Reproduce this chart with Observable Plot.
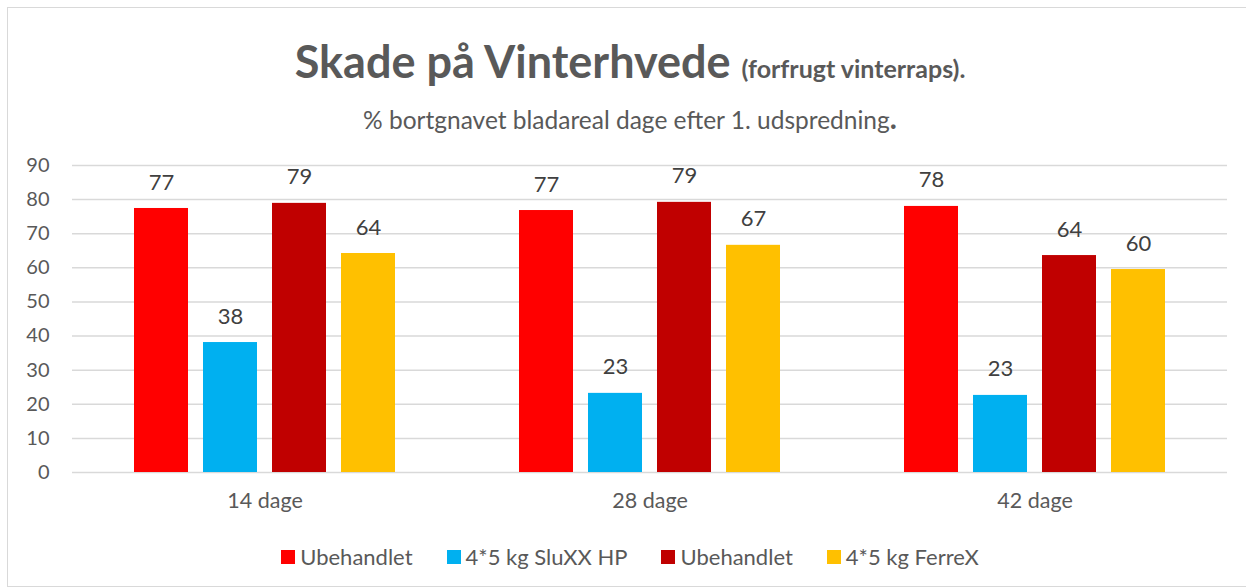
<!DOCTYPE html>
<html><head><meta charset="utf-8">
<script src="https://cdn.jsdelivr.net/npm/d3@7"></script>
<script src="https://cdn.jsdelivr.net/npm/@observablehq/plot@0.6"></script>
<style>
html,body{margin:0;padding:0;overflow:hidden;background:#fff;width:1246px;height:588px;font-family:Lato,sans-serif;}
#frame{position:absolute;left:7px;top:7px;width:1250px;height:580px;border:1.5px solid #d9d9d9;box-sizing:border-box;}
#title{position:absolute;left:7px;width:1246px;top:34px;text-align:center;color:#595959;font-weight:bold;font-size:45px;line-height:54px;white-space:nowrap;}
#title span{font-size:25px;}
#subtitle{position:absolute;left:7px;width:1246px;top:102px;text-align:center;color:#595959;font-size:24.5px;line-height:30px;white-space:nowrap;}
#subtitle b{font-size:30px;}
#chart{position:absolute;left:0;top:140px;}
#legend{position:absolute;left:7px;width:1246px;top:543px;display:flex;justify-content:center;gap:34px;color:#595959;font-size:22px;line-height:28px;}
#legend .item{display:flex;align-items:center;gap:5px;}
#legend .sw{width:14px;height:14px;display:inline-block;}
</style></head>
<body>
<div id="frame"></div>
<div id="title"></div>
<div id="subtitle"></div>
<div id="chart"></div>
<div id="legend"></div>
<script>
const titleMain = "Skade på Vinterhvede";
const titleSmall = "(forfrugt vinterraps).";
const subtitleText = "% bortgnavet bladareal dage efter 1. udspredning";
const days = ["14 dage", "28 dage", "42 dage"];
const seriesKeys = ["s1", "s2", "s3", "s4"];
const seriesNames = ["Ubehandlet", "4*5 kg SluXX HP", "Ubehandlet", "4*5 kg FerreX"];
const seriesColors = ["#FF0000", "#00B0F0", "#C00000", "#FFC000"];
const ubehandletA = [77.4, 76.8, 78.0];
const sluxx = [38.1, 23.2, 22.6];
const ubehandletB = [78.9, 79.2, 63.6];
const ferrex = [64.2, 66.6, 59.5];
const yTicks = [0, 10, 20, 30, 40, 50, 60, 70, 80, 90];

const seriesValues = [ubehandletA, sluxx, ubehandletB, ferrex];
const data = [];
days.forEach((d, i) => {
  seriesKeys.forEach((k, j) => {
    data.push({day: d, key: k, value: seriesValues[j][i], label: String(Math.round(seriesValues[j][i]))});
  });
});

document.getElementById("title").innerHTML = titleMain + " <span>" + titleSmall + "</span>";
document.getElementById("subtitle").innerHTML = subtitleText + "<b>.</b>";

const chart = Plot.plot({
  width: 1246, height: 400,
  marginLeft: 71, marginRight: 18, marginTop: 25, marginBottom: 68,
  style: {fontFamily: "Lato, sans-serif", fontSize: "20px", color: "#595959", background: "transparent"},
  fx: {domain: days, padding: 0, label: null, tickSize: 0, tickPadding: 20, axis: "bottom"},
  x: {domain: seriesKeys, paddingInner: 0.214, paddingOuter: 0.864, axis: null},
  y: {domain: [0, 90], ticks: yTicks, tickSize: 0, tickPadding: 23, label: null},
  color: {domain: seriesKeys, range: seriesColors},
  marks: [
    Plot.ruleY(yTicks, {stroke: "#d9d9d9", strokeWidth: 1.5}),
    Plot.barY(data, {fx: "day", x: "key", y: "value", fill: "key"}),
    Plot.text(data, {fx: "day", x: "key", y: "value", text: "label", dy: -26, fill: "#404040", fontSize: 22})
  ]
});
chart.querySelectorAll("[aria-label='fx-axis tick label'] text").forEach(t => t.setAttribute("font-size", "21.5"));
document.getElementById("chart").appendChild(chart);

const legend = document.getElementById("legend");
seriesKeys.forEach((k, j) => {
  const it = document.createElement("div");
  it.className = "item";
  it.innerHTML = `<span class="sw" style="background:${seriesColors[j]}"></span><span>${seriesNames[j]}</span>`;
  legend.appendChild(it);
});
</script>
</body></html>
